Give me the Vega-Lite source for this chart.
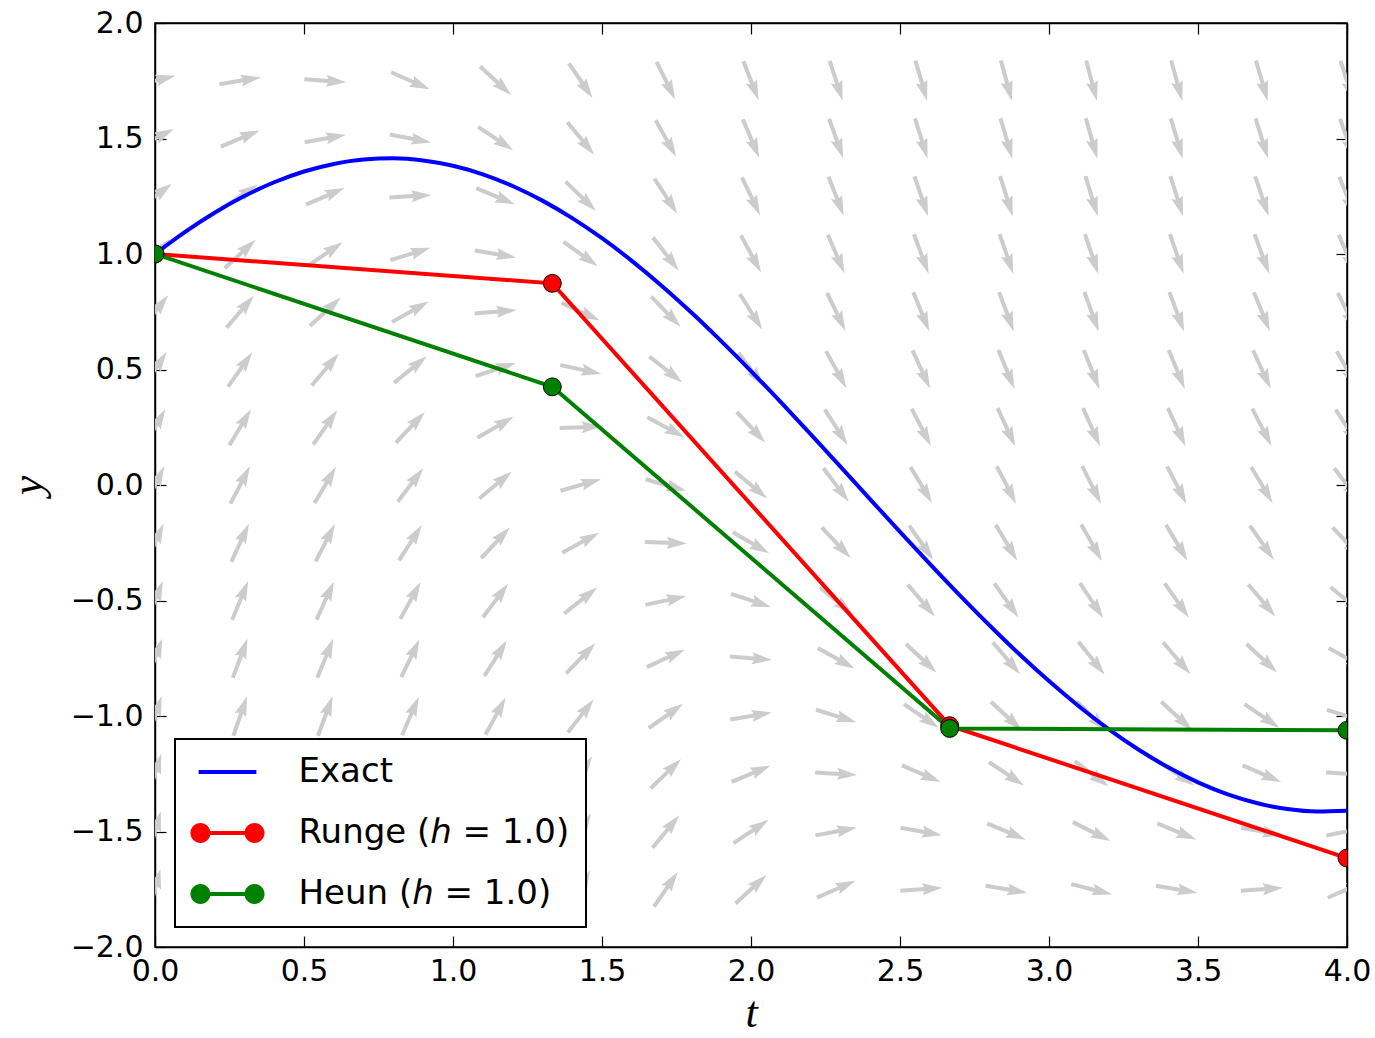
{
  "$schema": "https://vega.github.io/schema/vega-lite/v6.json",
  "width": 1192,
  "height": 924,
  "autosize": {"type": "none"},
  "padding": {"left": 155, "top": 23, "right": 28, "bottom": 91},
  "background": "white",
  "datasets": {
    "field": [
      {"t":0,"y":-1.75,"dir":75.1},{"t":0,"y":-1.5,"dir":74.1},{"t":0,"y":-1.25,"dir":72.9},{"t":0,"y":-1,"dir":71.6},{"t":0,"y":-0.75,"dir":70.0},{"t":0,"y":-0.5,"dir":68.2},{"t":0,"y":-0.25,"dir":66.0},{"t":0,"y":0,"dir":63.4},{"t":0,"y":0.25,"dir":60.3},{"t":0,"y":0.5,"dir":56.3},{"t":0,"y":0.75,"dir":51.3},{"t":0,"y":1,"dir":45.0},{"t":0,"y":1.25,"dir":36.9},{"t":0,"y":1.5,"dir":26.6},{"t":0,"y":1.75,"dir":14.0},
      {"t":0.2857,"y":-1.75,"dir":74.8},{"t":0.2857,"y":-1.5,"dir":73.7},{"t":0.2857,"y":-1.25,"dir":72.5},{"t":0.2857,"y":-1,"dir":71.1},{"t":0.2857,"y":-0.75,"dir":69.5},{"t":0.2857,"y":-0.5,"dir":67.5},{"t":0.2857,"y":-0.25,"dir":65.3},{"t":0.2857,"y":0,"dir":62.5},{"t":0.2857,"y":0.25,"dir":59.1},{"t":0.2857,"y":0.5,"dir":54.8},{"t":0.2857,"y":0.75,"dir":49.5},{"t":0.2857,"y":1,"dir":42.6},{"t":0.2857,"y":1.25,"dir":33.8},{"t":0.2857,"y":1.5,"dir":22.7},{"t":0.2857,"y":1.75,"dir":9.6},
      {"t":0.5714,"y":-1.75,"dir":73.8},{"t":0.5714,"y":-1.5,"dir":72.6},{"t":0.5714,"y":-1.25,"dir":71.2},{"t":0.5714,"y":-1,"dir":69.6},{"t":0.5714,"y":-0.75,"dir":67.7},{"t":0.5714,"y":-0.5,"dir":65.4},{"t":0.5714,"y":-0.25,"dir":62.6},{"t":0.5714,"y":0,"dir":59.3},{"t":0.5714,"y":0.25,"dir":55.1},{"t":0.5714,"y":0.5,"dir":49.8},{"t":0.5714,"y":0.75,"dir":43.0},{"t":0.5714,"y":1,"dir":34.3},{"t":0.5714,"y":1.25,"dir":23.4},{"t":0.5714,"y":1.5,"dir":10.3},{"t":0.5714,"y":1.75,"dir":-3.9},
      {"t":0.8571,"y":-1.75,"dir":71.9},{"t":0.8571,"y":-1.5,"dir":70.4},{"t":0.8571,"y":-1.25,"dir":68.7},{"t":0.8571,"y":-1,"dir":66.6},{"t":0.8571,"y":-0.75,"dir":64.1},{"t":0.8571,"y":-0.5,"dir":61.1},{"t":0.8571,"y":-0.25,"dir":57.3},{"t":0.8571,"y":0,"dir":52.6},{"t":0.8571,"y":0.25,"dir":46.6},{"t":0.8571,"y":0.5,"dir":39.0},{"t":0.8571,"y":0.75,"dir":29.2},{"t":0.8571,"y":1,"dir":17.2},{"t":0.8571,"y":1.25,"dir":3.4},{"t":0.8571,"y":1.5,"dir":-10.8},{"t":0.8571,"y":1.75,"dir":-23.8},
      {"t":1.1429,"y":-1.75,"dir":68.8},{"t":1.1429,"y":-1.5,"dir":66.8},{"t":1.1429,"y":-1.25,"dir":64.3},{"t":1.1429,"y":-1,"dir":61.4},{"t":1.1429,"y":-0.75,"dir":57.7},{"t":1.1429,"y":-0.5,"dir":53.1},{"t":1.1429,"y":-0.25,"dir":47.2},{"t":1.1429,"y":0,"dir":39.7},{"t":1.1429,"y":0.25,"dir":30.1},{"t":1.1429,"y":0.5,"dir":18.3},{"t":1.1429,"y":0.75,"dir":4.6},{"t":1.1429,"y":1,"dir":-9.6},{"t":1.1429,"y":1.25,"dir":-22.8},{"t":1.1429,"y":1.5,"dir":-33.8},{"t":1.1429,"y":1.75,"dir":-42.6},
      {"t":1.4286,"y":-1.75,"dir":63.8},{"t":1.4286,"y":-1.5,"dir":60.7},{"t":1.4286,"y":-1.25,"dir":56.9},{"t":1.4286,"y":-1,"dir":52.1},{"t":1.4286,"y":-0.75,"dir":46.0},{"t":1.4286,"y":-0.5,"dir":38.1},{"t":1.4286,"y":-0.25,"dir":28.1},{"t":1.4286,"y":0,"dir":15.9},{"t":1.4286,"y":0.25,"dir":1.9},{"t":1.4286,"y":0.5,"dir":-12.2},{"t":1.4286,"y":0.75,"dir":-25.0},{"t":1.4286,"y":1,"dir":-35.6},{"t":1.4286,"y":1.25,"dir":-44.0},{"t":1.4286,"y":1.5,"dir":-50.6},{"t":1.4286,"y":1.75,"dir":-55.7},
      {"t":1.7143,"y":-1.75,"dir":55.7},{"t":1.7143,"y":-1.5,"dir":50.5},{"t":1.7143,"y":-1.25,"dir":43.9},{"t":1.7143,"y":-1,"dir":35.5},{"t":1.7143,"y":-0.75,"dir":24.9},{"t":1.7143,"y":-0.5,"dir":12.1},{"t":1.7143,"y":-0.25,"dir":-2.1},{"t":1.7143,"y":0,"dir":-16.0},{"t":1.7143,"y":0.25,"dir":-28.2},{"t":1.7143,"y":0.5,"dir":-38.2},{"t":1.7143,"y":0.75,"dir":-46.0},{"t":1.7143,"y":1,"dir":-52.1},{"t":1.7143,"y":1.25,"dir":-56.9},{"t":1.7143,"y":1.5,"dir":-60.8},{"t":1.7143,"y":1.75,"dir":-63.8},
      {"t":2,"y":-1.75,"dir":42.6},{"t":2,"y":-1.5,"dir":33.8},{"t":2,"y":-1.25,"dir":22.7},{"t":2,"y":-1,"dir":9.5},{"t":2,"y":-0.75,"dir":-4.7},{"t":2,"y":-0.5,"dir":-18.4},{"t":2,"y":-0.25,"dir":-30.2},{"t":2,"y":0,"dir":-39.8},{"t":2,"y":0.25,"dir":-47.3},{"t":2,"y":0.5,"dir":-53.1},{"t":2,"y":0.75,"dir":-57.7},{"t":2,"y":1,"dir":-61.4},{"t":2,"y":1.25,"dir":-64.3},{"t":2,"y":1.5,"dir":-66.8},{"t":2,"y":1.75,"dir":-68.8},
      {"t":2.2857,"y":-1.75,"dir":23.7},{"t":2.2857,"y":-1.5,"dir":10.7},{"t":2.2857,"y":-1.25,"dir":-3.5},{"t":2.2857,"y":-1,"dir":-17.3},{"t":2.2857,"y":-0.75,"dir":-29.3},{"t":2.2857,"y":-0.5,"dir":-39.0},{"t":2.2857,"y":-0.25,"dir":-46.7},{"t":2.2857,"y":0,"dir":-52.7},{"t":2.2857,"y":0.25,"dir":-57.4},{"t":2.2857,"y":0.5,"dir":-61.1},{"t":2.2857,"y":0.75,"dir":-64.1},{"t":2.2857,"y":1,"dir":-66.6},{"t":2.2857,"y":1.25,"dir":-68.7},{"t":2.2857,"y":1.5,"dir":-70.4},{"t":2.2857,"y":1.75,"dir":-71.9},
      {"t":2.5714,"y":-1.75,"dir":3.8},{"t":2.5714,"y":-1.5,"dir":-10.4},{"t":2.5714,"y":-1.25,"dir":-23.5},{"t":2.5714,"y":-1,"dir":-34.4},{"t":2.5714,"y":-0.75,"dir":-43.0},{"t":2.5714,"y":-0.5,"dir":-49.8},{"t":2.5714,"y":-0.25,"dir":-55.1},{"t":2.5714,"y":0,"dir":-59.3},{"t":2.5714,"y":0.25,"dir":-62.7},{"t":2.5714,"y":0.5,"dir":-65.4},{"t":2.5714,"y":0.75,"dir":-67.7},{"t":2.5714,"y":1,"dir":-69.6},{"t":2.5714,"y":1.25,"dir":-71.2},{"t":2.5714,"y":1.5,"dir":-72.6},{"t":2.5714,"y":1.75,"dir":-73.8},
      {"t":2.8571,"y":-1.75,"dir":-9.6},{"t":2.8571,"y":-1.5,"dir":-22.8},{"t":2.8571,"y":-1.25,"dir":-33.8},{"t":2.8571,"y":-1,"dir":-42.6},{"t":2.8571,"y":-0.75,"dir":-49.5},{"t":2.8571,"y":-0.5,"dir":-54.8},{"t":2.8571,"y":-0.25,"dir":-59.1},{"t":2.8571,"y":0,"dir":-62.5},{"t":2.8571,"y":0.25,"dir":-65.3},{"t":2.8571,"y":0.5,"dir":-67.5},{"t":2.8571,"y":0.75,"dir":-69.5},{"t":2.8571,"y":1,"dir":-71.1},{"t":2.8571,"y":1.25,"dir":-72.5},{"t":2.8571,"y":1.5,"dir":-73.7},{"t":2.8571,"y":1.75,"dir":-74.8},
      {"t":3.1429,"y":-1.75,"dir":-14.0},{"t":3.1429,"y":-1.5,"dir":-26.6},{"t":3.1429,"y":-1.25,"dir":-36.9},{"t":3.1429,"y":-1,"dir":-45.0},{"t":3.1429,"y":-0.75,"dir":-51.3},{"t":3.1429,"y":-0.5,"dir":-56.3},{"t":3.1429,"y":-0.25,"dir":-60.3},{"t":3.1429,"y":0,"dir":-63.4},{"t":3.1429,"y":0.25,"dir":-66.0},{"t":3.1429,"y":0.5,"dir":-68.2},{"t":3.1429,"y":0.75,"dir":-70.0},{"t":3.1429,"y":1,"dir":-71.6},{"t":3.1429,"y":1.25,"dir":-72.9},{"t":3.1429,"y":1.5,"dir":-74.1},{"t":3.1429,"y":1.75,"dir":-75.1},
      {"t":3.4286,"y":-1.75,"dir":-9.5},{"t":3.4286,"y":-1.5,"dir":-22.7},{"t":3.4286,"y":-1.25,"dir":-33.8},{"t":3.4286,"y":-1,"dir":-42.6},{"t":3.4286,"y":-0.75,"dir":-49.4},{"t":3.4286,"y":-0.5,"dir":-54.8},{"t":3.4286,"y":-0.25,"dir":-59.1},{"t":3.4286,"y":0,"dir":-62.5},{"t":3.4286,"y":0.25,"dir":-65.2},{"t":3.4286,"y":0.5,"dir":-67.5},{"t":3.4286,"y":0.75,"dir":-69.5},{"t":3.4286,"y":1,"dir":-71.1},{"t":3.4286,"y":1.25,"dir":-72.5},{"t":3.4286,"y":1.5,"dir":-73.7},{"t":3.4286,"y":1.75,"dir":-74.8},
      {"t":3.7143,"y":-1.75,"dir":3.9},{"t":3.7143,"y":-1.5,"dir":-10.3},{"t":3.7143,"y":-1.25,"dir":-23.3},{"t":3.7143,"y":-1,"dir":-34.3},{"t":3.7143,"y":-0.75,"dir":-43.0},{"t":3.7143,"y":-0.5,"dir":-49.8},{"t":3.7143,"y":-0.25,"dir":-55.1},{"t":3.7143,"y":0,"dir":-59.3},{"t":3.7143,"y":0.25,"dir":-62.6},{"t":3.7143,"y":0.5,"dir":-65.4},{"t":3.7143,"y":0.75,"dir":-67.7},{"t":3.7143,"y":1,"dir":-69.6},{"t":3.7143,"y":1.25,"dir":-71.2},{"t":3.7143,"y":1.5,"dir":-72.6},{"t":3.7143,"y":1.75,"dir":-73.8},
      {"t":4,"y":-1.75,"dir":23.9},{"t":4,"y":-1.5,"dir":10.9},{"t":4,"y":-1.25,"dir":-3.3},{"t":4,"y":-1,"dir":-17.1},{"t":4,"y":-0.75,"dir":-29.1},{"t":4,"y":-0.5,"dir":-38.9},{"t":4,"y":-0.25,"dir":-46.6},{"t":4,"y":0,"dir":-52.6},{"t":4,"y":0.25,"dir":-57.3},{"t":4,"y":0.5,"dir":-61.0},{"t":4,"y":0.75,"dir":-64.1},{"t":4,"y":1,"dir":-66.6},{"t":4,"y":1.25,"dir":-68.6},{"t":4,"y":1.5,"dir":-70.4},{"t":4,"y":1.75,"dir":-71.9}
    ],
    "curves": [
      {"series":"Exact","t":0.0,"y":1.0},{"series":"Exact","t":0.1,"y":1.0948},{"series":"Exact","t":0.2,"y":1.1788},{"series":"Exact","t":0.3,"y":1.2508},{"series":"Exact","t":0.4,"y":1.3105},{"series":"Exact","t":0.5,"y":1.357},{"series":"Exact","t":0.6,"y":1.3899},{"series":"Exact","t":0.7,"y":1.409},{"series":"Exact","t":0.8,"y":1.4141},{"series":"Exact","t":0.9,"y":1.4049},
      {"series":"Exact","t":1.0,"y":1.3818},{"series":"Exact","t":1.1,"y":1.3448},{"series":"Exact","t":1.2,"y":1.2944},{"series":"Exact","t":1.3,"y":1.2311},{"series":"Exact","t":1.4,"y":1.1554},{"series":"Exact","t":1.5,"y":1.0682},{"series":"Exact","t":1.6,"y":0.9704},{"series":"Exact","t":1.7,"y":0.8629},{"series":"Exact","t":1.8,"y":0.7466},{"series":"Exact","t":1.9,"y":0.623},
      {"series":"Exact","t":2.0,"y":0.4932},{"series":"Exact","t":2.1,"y":0.3584},{"series":"Exact","t":2.2,"y":0.22},{"series":"Exact","t":2.3,"y":0.0794},{"series":"Exact","t":2.4,"y":-0.0619},{"series":"Exact","t":2.5,"y":-0.2026},{"series":"Exact","t":2.6,"y":-0.3414},{"series":"Exact","t":2.7,"y":-0.4767},{"series":"Exact","t":2.8,"y":-0.6072},{"series":"Exact","t":2.9,"y":-0.7318},
      {"series":"Exact","t":3.0,"y":-0.8489},{"series":"Exact","t":3.1,"y":-0.9575},{"series":"Exact","t":3.2,"y":-1.0567},{"series":"Exact","t":3.3,"y":-1.1452},{"series":"Exact","t":3.4,"y":-1.2223},{"series":"Exact","t":3.5,"y":-1.2873},{"series":"Exact","t":3.6,"y":-1.3393},{"series":"Exact","t":3.7,"y":-1.3779},{"series":"Exact","t":3.8,"y":-1.4029},{"series":"Exact","t":3.9,"y":-1.4137},
      {"series":"Exact","t":4.0,"y":-1.4104},
      {"series":"Runge (ℎ = 1.0)","t":0,"y":1.0},{"series":"Runge (ℎ = 1.0)","t":1.3333,"y":0.873},{"series":"Runge (ℎ = 1.0)","t":2.6667,"y":-1.042},{"series":"Runge (ℎ = 1.0)","t":4,"y":-1.615},
      {"series":"Heun (ℎ = 1.0)","t":0,"y":1.0},{"series":"Heun (ℎ = 1.0)","t":1.3333,"y":0.425},{"series":"Heun (ℎ = 1.0)","t":2.6667,"y":-1.054},{"series":"Heun (ℎ = 1.0)","t":4,"y":-1.062}
    ]
  },
  "layer": [
    {
      "data": {"name": "field"},
      "mark": {"type": "point", "shape": "M-1,-0.095L0.143,-0.095L0.048,-0.286L1,0L0.048,0.286L0.143,0.095L-1,0.095Z", "filled": true, "color": "#cccccc", "opacity": 1, "strokeWidth": 0, "size": 1764, "clip": true},
      "encoding": {
        "x": {"field": "t", "type": "quantitative", "scale": {"domain": [0, 4], "nice": false, "zero": false},
              "axis": {"orient": "bottom", "title": "t", "values": [0, 0.5, 1, 1.5, 2, 2.5, 3, 3.5, 4], "format": ".1f", "labelPadding": 20, "titlePadding": 5}},
        "y": {"field": "y", "type": "quantitative", "scale": {"domain": [-2, 2], "nice": false, "zero": false},
              "axis": {"orient": "left", "title": "y", "values": [-2, -1.5, -1, -0.5, 0, 0.5, 1, 1.5, 2], "format": ".1f", "labelPadding": 23, "titlePadding": 20}},
        "angle": {"field": "dir", "type": "quantitative", "scale": {"domain": [-90, 90], "range": [90, -90]}}
      }
    },
    {
      "data": {"name": "curves"},
      "transform": [{"filter": {"field": "series", "equal": "Exact"}}],
      "mark": {"type": "line", "strokeWidth": 4, "clip": true, "interpolate": "monotone"},
      "encoding": {
        "x": {"field": "t", "type": "quantitative", "axis": {"orient": "top", "labels": false, "title": null, "values": [0, 0.5, 1, 1.5, 2, 2.5, 3, 3.5, 4]}},
        "y": {"field": "y", "type": "quantitative", "axis": {"orient": "right", "labels": false, "title": null, "values": [-2, -1.5, -1, -0.5, 0, 0.5, 1, 1.5, 2]}},
        "color": {
          "field": "series", "type": "nominal",
          "scale": {"domain": ["Exact", "Runge (ℎ = 1.0)", "Heun (ℎ = 1.0)"], "range": ["#0000ff", "#ff0000", "#008000"]},
          "legend": {
            "title": null, "orient": "bottom-left", "offset": 20, "padding": 16,
            "strokeColor": "black", "fillColor": "white", "cornerRadius": 0,
            "labelFont": "DejaVu Sans", "labelFontSize": 34, "labelColor": "black", "labelLimit": 500,
            "symbolSize": 1156, "symbolOffset": 19.5, "labelOffset": 54, "rowPadding": 27,
            "encode": {
              "symbols": {"update": {
                "shape": {"signal": "datum.value === 'Exact' ? 'M-1.7,-0.12L1.7,-0.12L1.7,0.12L-1.7,0.12Z' : 'M-1.6,-0.12L1.6,-0.12L1.6,0.12L-1.6,0.12Z M-2.18,0A0.59,0.59 0 1,1 -1.0,0A0.59,0.59 0 1,1 -2.18,0Z M1.0,0A0.59,0.59 0 1,1 2.18,0A0.59,0.59 0 1,1 1.0,0Z'"},
                "fill": {"scale": "color", "field": "value"},
                "stroke": {"value": "transparent"},
                "strokeWidth": {"value": 0},
                "opacity": {"value": 1}
              }},
              "legend": {"update": {"strokeWidth": {"value": 2}}}
            }
          }
        }
      }
    },
    {
      "data": {"name": "curves"},
      "transform": [{"filter": {"field": "series", "oneOf": ["Runge (ℎ = 1.0)", "Heun (ℎ = 1.0)"]}}],
      "mark": {"type": "line", "strokeWidth": 4, "clip": true},
      "encoding": {
        "x": {"field": "t", "type": "quantitative", "axis": null},
        "y": {"field": "y", "type": "quantitative", "axis": null},
        "color": {"field": "series", "type": "nominal", "scale": {"domain": ["Exact", "Runge (ℎ = 1.0)", "Heun (ℎ = 1.0)"], "range": ["#0000ff", "#ff0000", "#008000"]}}
      }
    },
    {
      "data": {"name": "curves"},
      "transform": [{"filter": {"field": "series", "oneOf": ["Runge (ℎ = 1.0)", "Heun (ℎ = 1.0)"]}}],
      "mark": {"type": "point", "filled": true, "size": 320, "stroke": "black", "strokeWidth": 1, "opacity": 1, "clip": true},
      "encoding": {
        "x": {"field": "t", "type": "quantitative", "axis": null},
        "y": {"field": "y", "type": "quantitative", "axis": null},
        "fill": {"field": "series", "type": "nominal", "scale": {"domain": ["Runge (ℎ = 1.0)", "Heun (ℎ = 1.0)"], "range": ["#ff0000", "#008000"]}, "legend": null}
      }
    }
  ],
  "resolve": {"axis": {"x": "independent", "y": "independent"}},
  "config": {
    "view": {"stroke": "black", "strokeWidth": 1.5},
    "axis": {
      "grid": false, "domainColor": "black", "domainWidth": 1.5,
      "tickColor": "black", "tickWidth": 1.2, "tickSize": -11,
      "labelFont": "DejaVu Sans", "labelFontSize": 30, "labelColor": "black",
      "labelFlush": false, "labelOverlap": false, "labelBound": false,
      "titleFont": "Liberation Serif", "titleFontStyle": "italic", "titleFontWeight": "normal", "titleFontSize": 44, "titleColor": "black"
    }
  }
}
